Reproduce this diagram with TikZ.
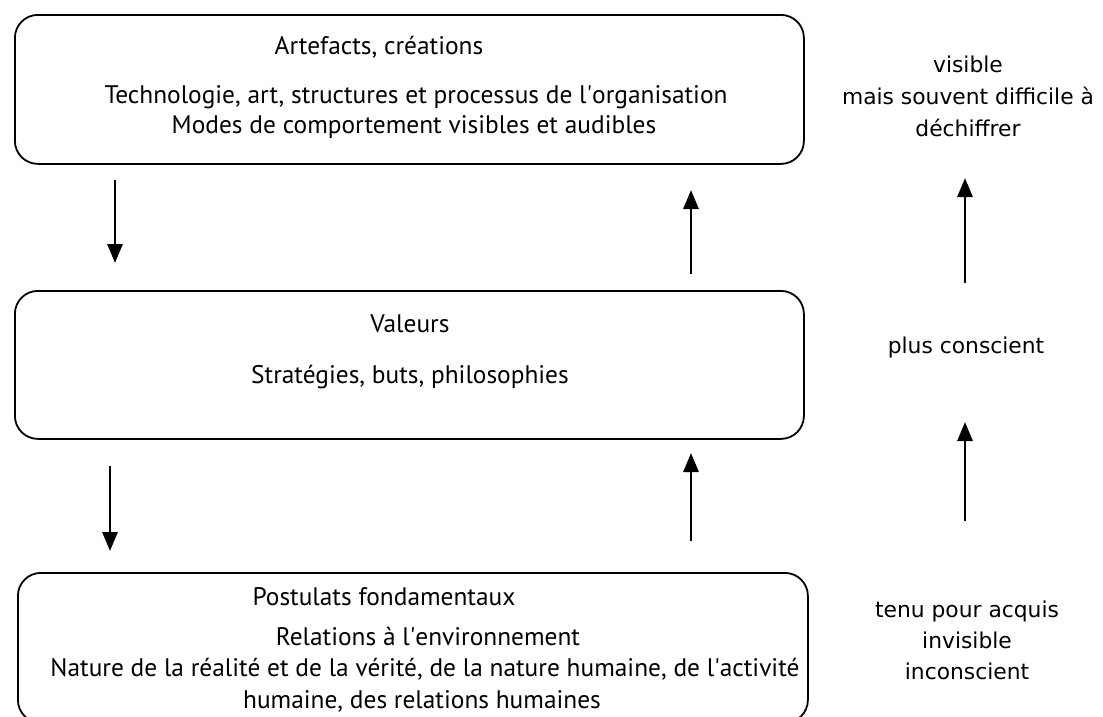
\documentclass[tikz,border=0pt]{standalone}
\usepackage{fontspec}
\setmainfont{PT Sans}
\newfontfamily\rightfont{DejaVu Sans}
\usetikzlibrary{arrows.meta}
\newlength\measw
\begin{document}
\settowidth\measw{\normalfont\fontsize{20}{24}\selectfont Technologie, art, structures et processus de l\textquotesingle organisation}%
\pgfmathsetmacro\boxfs{20*623/\measw}%
\settowidth\measw{\normalfont\rightfont\fontsize{20}{24}\selectfont mais souvent difficile à}%
\pgfmathsetmacro\sidefs{20*252/\measw}%
\begin{tikzpicture}[x=1pt,y=-1pt,
  layerbox/.style={draw,line width=1.8pt,rounded corners=23pt,anchor=north west},
  boxtext/.style={font=\fontsize{\boxfs}{\boxfs}\selectfont,inner sep=0pt,anchor=center},
  sidetext/.style={font=\rightfont\fontsize{\sidefs}{#1}\selectfont,align=center,inner sep=0pt},
  sidetext/.default=31,
  flow/.style={line width=2.9pt,-{Triangle[width=15pt,length=19pt]}}]
\clip (0,0) rectangle (1103,716);
\fill[white] (0,0) rectangle (1103,716);
% boxes
\node[layerbox,minimum width=789pt,minimum height=149pt] (art) at (14,14) {};
\node[layerbox,minimum width=789pt,minimum height=148pt] (val) at (14,290) {};
\node[layerbox,minimum width=790pt,minimum height=150pt] (pos) at (17,572) {};
% texts top
\node[boxtext] (t1) at (379,47) {Artefacts, créations};
\node[boxtext] (t2) at (416,97) {Technologie, art, structures et processus de l\textquotesingle organisation};
\node[boxtext] (t3) at (414,127) {Modes de comportement visibles et audibles};
% texts middle
\node[boxtext] (v1) at (410,324) {Valeurs};
\node[boxtext] (v2) at (410,377) {Stratégies, buts, philosophies};
% texts bottom
\node[boxtext] (p1) at (384,597) {Postulats fondamentaux};
\node[boxtext] (p2) at (428,637) {Relations à l\textquotesingle environnement};
\node[boxtext] (p3) at (425,669) {Nature de la réalité et de la vérité, de la nature humaine, de l\textquotesingle activité};
\node[boxtext] (p4) at (422,701) {humaine, des relations humaines};
% side texts
\node[sidetext=32] (s1) at (968,96) {visible\\mais souvent difficile à\\déchiffrer};
\node[sidetext] (s2) at (966,347) {plus conscient};
\node[sidetext=31] (s3) at (967,640) {tenu pour acquis\\invisible\\inconscient};
% arrow endpoints
\coordinate (a1s) at (115,180);
\coordinate (a1e) at (115,263);
\coordinate (a2s) at (691,274);
\coordinate (a2e) at (691,190);
\coordinate (a3s) at (110,466);
\coordinate (a3e) at (110,551);
\coordinate (a4s) at (691,541);
\coordinate (a4e) at (691,453);
\coordinate (a5s) at (965,283);
\coordinate (a5e) at (965,178);
\coordinate (a6s) at (965,521);
\coordinate (a6e) at (965,422);
\draw[flow] (a1s) -- (a1e);
\draw[flow] (a2s) -- (a2e);
\draw[flow] (a3s) -- (a3e);
\draw[flow] (a4s) -- (a4e);
\draw[flow] (a5s) -- (a5e);
\draw[flow] (a6s) -- (a6e);
\end{tikzpicture}
\end{document}
